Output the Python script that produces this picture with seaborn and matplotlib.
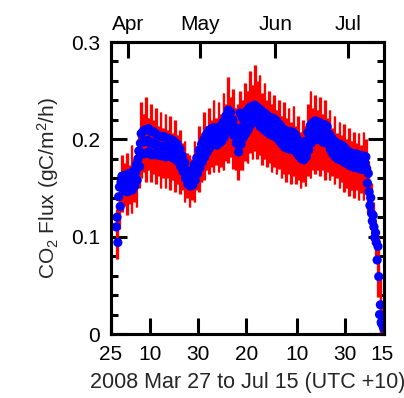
import numpy as np
import pandas as pd
import matplotlib
matplotlib.use("Agg")
import matplotlib.pyplot as plt
import matplotlib.dates as mdates
import seaborn as sns

# ---------------- data ----------------
start_date = "2008-03-27"
# three samples per day (Mar 27 .. Jul 15): high, middle, low flux
flux_hi = [.120, .151, .162, .163, .162, .165, .164, .168, .174, .188,
           .206, .209, .210, .211, .208, .208, .206, .204, .203, .203,
           .202, .201, .200, .199, .197, .195, .190, .183, .176, .168,
           .164, .167, .174, .181, .189, .195, .200, .205, .209, .211,
           .212, .210, .212, .214, .218, .224, .230, .228, .220, .212,
           .205, .227, .222, .226, .230, .233, .234, .235, .233, .231,
           .229, .227, .225, .223, .222, .221, .219, .216, .213, .210,
           .209, .208, .208, .207, .204, .199, .196, .193, .198, .207,
           .214, .217, .219, .218, .217, .215, .215, .213, .205, .201,
           .198, .196, .195, .194, .192, .189, .187, .186, .185, .185,
           .184, .183, .183, .182, .165, .140, .122, .104, .090, .030,
           .015]
flux_mid = [.110, .141, .156, .155, .154, .157, .156, .160, .166, .180,
            .196, .197, .198, .199, .196, .197, .195, .194, .193, .193,
            .192, .192, .191, .190, .188, .186, .181, .175, .168, .161,
            .158, .160, .166, .173, .180, .186, .191, .196, .200, .203,
            .204, .202, .204, .206, .210, .216, .222, .220, .212, .204,
            .196, .205, .212, .216, .220, .224, .226, .227, .225, .222,
            .220, .218, .216, .214, .213, .212, .210, .207, .204, .201,
            .200, .199, .199, .198, .195, .191, .188, .186, .190, .198,
            .205, .208, .210, .209, .208, .206, .206, .204, .197, .193,
            .190, .188, .187, .186, .184, .182, .180, .179, .178, .178,
            .177, .176, .176, .176, .155, .132, .116, .099, .076, .020,
            .010]
flux_lo = [.094, .131, .150, .147, .146, .149, .148, .152, .158, .172,
           .186, .185, .186, .187, .184, .186, .184, .184, .183, .183,
           .182, .183, .182, .181, .179, .177, .172, .167, .160, .154,
           .152, .153, .158, .165, .171, .177, .182, .187, .191, .195,
           .196, .194, .196, .198, .202, .208, .214, .212, .204, .196,
           .187, .195, .202, .206, .210, .215, .218, .219, .217, .213,
           .211, .209, .207, .205, .204, .203, .201, .198, .195, .192,
           .191, .190, .190, .189, .186, .183, .180, .179, .182, .189,
           .196, .199, .201, .200, .199, .197, .197, .195, .189, .185,
           .182, .180, .179, .178, .176, .175, .173, .172, .171, .171,
           .170, .169, .169, .170, .146, .124, .110, .094, .059, .012,
           .006]
# daily extent of the red error bars
err_top = [.128, .166, .184, .176, .186, .174, .194, .180, .192, .206,
           .238, .226, .244, .222, .236, .220, .232, .214, .228, .212,
           .226, .210, .224, .206, .220, .204, .210, .196, .198, .186,
           .184, .180, .198, .192, .214, .206, .228, .214, .232, .220,
           .240, .222, .238, .226, .248, .236, .264, .244, .252, .232,
           .236, .250, .240, .258, .250, .270, .256, .276, .260, .266,
           .248, .258, .240, .250, .236, .246, .230, .240, .224, .238,
           .222, .232, .218, .234, .214, .224, .208, .220, .214, .236,
           .250, .232, .246, .230, .244, .226, .240, .222, .230, .212,
           .224, .206, .218, .204, .216, .200, .212, .198, .208, .196,
           .206, .194, .208, .200, .178, .155, .136, .115, .100, .058,
           .030]
err_bot = [.077, .108, .125, .132, .122, .134, .124, .136, .130, .150,
           .160, .166, .156, .168, .156, .164, .154, .162, .150, .160,
           .150, .160, .148, .158, .146, .154, .144, .148, .136, .140,
           .130, .138, .136, .148, .146, .156, .158, .168, .164, .172,
           .166, .174, .166, .172, .168, .178, .176, .182, .170, .168,
           .158, .168, .168, .178, .176, .186, .180, .188, .180, .184,
           .174, .180, .172, .176, .166, .172, .164, .170, .160, .164,
           .156, .164, .154, .162, .154, .158, .150, .156, .152, .162,
           .160, .168, .164, .168, .162, .168, .158, .166, .158, .162,
           .154, .160, .150, .156, .146, .150, .142, .148, .140, .148,
           .138, .145, .138, .147, .125, .108, .092, .078, .038, .000,
           .000]

bottom_tick_dates = ["2008-03-25", "2008-04-10", "2008-04-30", "2008-05-20",
                     "2008-06-10", "2008-06-30", "2008-07-15"]
bottom_tick_labels = ["25", "10", "30", "20", "10", "30", "15"]
top_tick_dates = ["2008-04-01", "2008-05-01", "2008-06-01", "2008-07-01"]
top_tick_labels = ["Apr", "May", "Jun", "Jul"]
y_ticks = [0, 0.1, 0.2, 0.3]
y_tick_labels = ["0", "0.1", "0.2", "0.3"]
x_range = ["2008-03-25", "2008-07-16"]

# ---------------- build table ----------------
rows = []
t0 = pd.Timestamp(start_date)
for i in range(len(flux_mid)):
    for frac, val in ((1/6, flux_mid[i]), (1/2, flux_hi[i]), (5/6, flux_lo[i])):
        rows.append({"time": t0 + pd.Timedelta(days=i + frac), "flux": val,
                     "top": err_top[i], "bot": err_bot[i]})
df = pd.DataFrame(rows)
df["tnum"] = mdates.date2num(df["time"])

# ---------------- plot ----------------
sns.set_style("ticks")
plt.rcParams['font.family'] = ['Liberation Sans', 'DejaVu Sans']
plt.rcParams['mathtext.fontset'] = 'custom'
plt.rcParams['mathtext.rm'] = 'Liberation Sans'
plt.rcParams['mathtext.it'] = 'Liberation Sans:italic'
for a in ("xtick", "ytick"):
    plt.rcParams[f"{a}.major.width"] = 2.2
    plt.rcParams[f"{a}.minor.width"] = 2.2
    plt.rcParams[f"{a}.major.size"] = 11.5
    plt.rcParams[f"{a}.minor.size"] = 5
    plt.rcParams[f"{a}.direction"] = "in"
    plt.rcParams[f"{a}.color"] = "black"
    plt.rcParams[f"{a}.labelsize"] = 15
plt.rcParams["axes.linewidth"] = 2.2
plt.rcParams["axes.edgecolor"] = "black"

fig = plt.figure(figsize=(4.04, 3.98), dpi=100)
ax = fig.add_axes([111/404, 1-334/398, (384-111)/404, (334-42)/398])

ax.vlines(df["tnum"], df["bot"], df["top"], color="#ff0000", lw=0.9, zorder=2)
sns.scatterplot(data=df, x="tnum", y="flux", color="#0000ff", s=44,
                linewidth=0, edgecolor="none", ax=ax, zorder=3, legend=False)

xl = mdates.date2num(pd.to_datetime(x_range))
ax.set_xlim(xl[0], xl[1])
ax.set_ylim(0, 0.3)
ax.set_xticks(mdates.date2num(pd.to_datetime(bottom_tick_dates)))
ax.set_xticklabels(bottom_tick_labels)
ax.set_yticks(y_ticks)
ax.set_yticklabels(y_tick_labels)
ax.set_yticks(np.arange(0, 0.3001, 0.02), minor=True)
ax.set_xlabel("2008 Mar 27 to Jul 15 (UTC +10)", fontsize=15.5, labelpad=6)
ax.set_ylabel("CO$_2$ Flux (gC/m$^2$/h)", fontsize=15, labelpad=7)

ax.tick_params(axis="both", which="major", direction="in", length=11.5,
               width=2.2, colors="black")
ax.tick_params(axis="y", which="minor", direction="in", length=5, width=2.2)
ax.tick_params(axis="y", which="both", left=True, right=True)
ax.tick_params(axis="x", which="both", top=False, bottom=True, pad=8)
ax.tick_params(axis="y", which="major", pad=8)

ax2 = ax.twiny()
ax2.set_xlim(ax.get_xlim())
ax2.set_xticks(mdates.date2num(pd.to_datetime(top_tick_dates)))
ax2.set_xticklabels(top_tick_labels)
ax2.tick_params(axis="x", which="major", direction="in", length=11.5,
                width=2.2, pad=6, colors="black")
ax2.tick_params(axis="x", which="minor", top=False, bottom=False)

fig.savefig("out.png", dpi=100, facecolor="white")
